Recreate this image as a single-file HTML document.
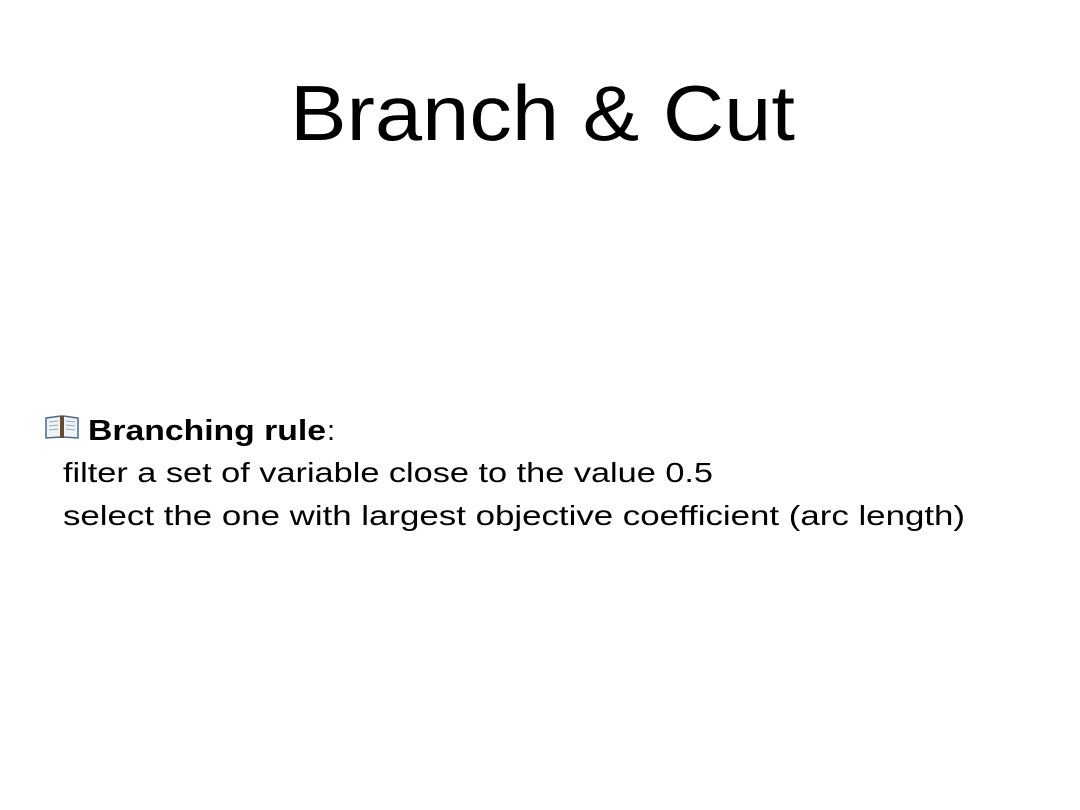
<!DOCTYPE html>
<html><head><meta charset="utf-8"><style>
html,body{margin:0;padding:0;background:#fff;}
svg{display:block}
text{font-family:"Liberation Sans",sans-serif;fill:#000}
</style></head><body>
<svg width="1080" height="810" viewBox="0 0 1080 810">
<text x="290" y="140" font-size="78" textLength="505" lengthAdjust="spacingAndGlyphs">Branch &amp; Cut</text>
<g>
<path d="M46 418 L61 416 L61 437 L46 438 Z" fill="#eef3f8" stroke="#4a6b8a" stroke-width="1.5"/>
<path d="M78 418 L63 416 L63 437 L78 438 Z" fill="#eef3f8" stroke="#4a6b8a" stroke-width="1.5"/>
<rect x="60" y="416" width="4" height="22" fill="#6b4a2a"/>
<g stroke="#9ab" stroke-width="1"><line x1="49" y1="422" x2="58" y2="421"/><line x1="49" y1="426" x2="58" y2="425"/><line x1="49" y1="430" x2="58" y2="429"/><line x1="66" y1="421" x2="75" y2="422"/><line x1="66" y1="425" x2="75" y2="426"/><line x1="66" y1="429" x2="75" y2="430"/></g>
</g>
<text x="88" y="440" font-size="29" font-weight="bold" textLength="238" lengthAdjust="spacingAndGlyphs">Branching rule</text>
<text x="327" y="440" font-size="29">:</text>
<text x="63" y="482" font-size="28" textLength="650" lengthAdjust="spacingAndGlyphs">filter a set of variable close to the value 0.5</text>
<text x="63" y="525" font-size="28" textLength="902" lengthAdjust="spacingAndGlyphs">select the one with largest objective coefficient (arc length)</text>
</svg>
</body></html>
